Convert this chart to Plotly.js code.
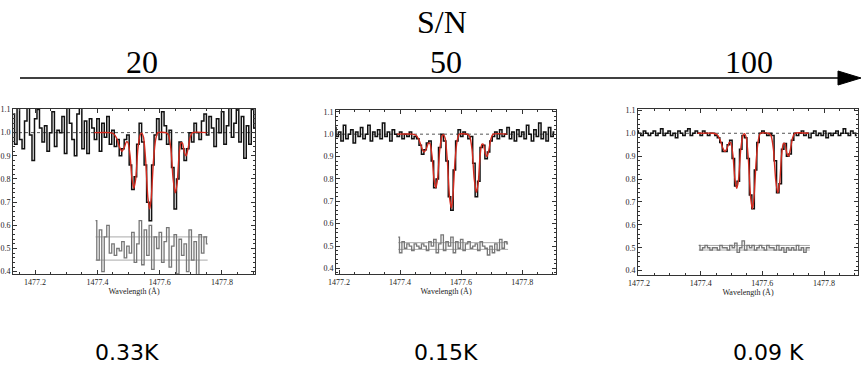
<!DOCTYPE html>
<html>
<head>
<meta charset="utf-8">
<script src="https://cdn.plot.ly/plotly-3.0.1.min.js"></script>
<style>html,body{margin:0;padding:0;background:#fff;}#chart{width:862px;height:368px;}</style>
</head>
<body>
<div id="chart"></div>
<script>
// ---- Data ----
const snLabels = ["20", "50", "100"];
const tempErrors = ["0.33K", "0.15K", "0.09 K"];
const axisTitle = "S/N";
const xTitle = "Wavelength (Å)";

const wave = [
1477.130,1477.138,1477.146,1477.154,1477.162,1477.170,1477.178,1477.186,1477.194,1477.202,
1477.210,1477.218,1477.226,1477.234,1477.242,1477.250,1477.258,1477.266,1477.274,1477.282,
1477.290,1477.298,1477.306,1477.314,1477.322,1477.330,1477.338,1477.346,1477.354,1477.362,
1477.370,1477.378,1477.386,1477.394,1477.402,1477.410,1477.418,1477.426,1477.434,1477.442,
1477.450,1477.458,1477.466,1477.474,1477.482,1477.490,1477.498,1477.506,1477.514,1477.522,
1477.530,1477.538,1477.546,1477.554,1477.562,1477.570,1477.578,1477.586,1477.594,1477.602,
1477.610,1477.618,1477.626,1477.634,1477.642,1477.650,1477.658,1477.666,1477.674,1477.682,
1477.690,1477.698,1477.706,1477.714,1477.722,1477.730,1477.738,1477.746,1477.754,1477.762,
1477.770,1477.778,1477.786,1477.794,1477.802,1477.810,1477.818,1477.826,1477.834,1477.842,
1477.850,1477.858,1477.866,1477.874,1477.882,1477.890,1477.898,1477.906];

const flux20 = [
1.08,0.95,1.12,0.97,0.93,1.05,1.14,0.99,0.88,1.06,
1.10,1.02,0.96,1.03,0.92,1.00,1.09,0.94,1.01,1.00,
1.07,0.91,1.13,1.04,0.97,0.90,1.08,1.12,0.93,1.05,
0.91,1.06,1.02,0.97,1.06,0.92,1.04,0.98,1.07,0.95,
1.01,0.94,0.97,0.90,0.93,0.97,0.99,0.86,0.755,0.81,
0.95,1.04,0.96,0.86,0.70,0.62,0.86,0.99,1.06,0.97,
1.09,1.03,0.95,1.01,0.85,0.67,0.80,0.96,0.93,0.88,
0.93,1.00,0.96,1.04,1.00,0.97,1.05,1.08,0.99,1.07,
1.02,0.94,1.06,1.00,1.09,0.95,1.03,1.11,0.98,1.04,
1.12,0.96,1.07,0.89,1.03,0.95,1.10,1.02];

const flux50 = [
1.01,0.98,1.03,0.97,1.02,1.00,0.96,1.03,0.99,1.01,
0.97,1.04,0.98,1.00,1.02,0.96,1.01,0.99,1.03,0.98,
1.00,1.04,0.97,1.01,0.99,1.02,0.98,1.05,0.99,1.01,
0.97,1.02,1.00,0.99,1.01,0.98,1.00,0.99,1.01,0.98,
0.99,0.98,0.95,0.91,0.93,0.96,0.97,0.88,0.76,0.80,
0.94,1.00,0.97,0.88,0.72,0.66,0.84,0.97,1.02,0.99,
1.01,1.00,0.98,0.99,0.87,0.72,0.79,0.94,0.95,0.89,
0.92,0.97,0.99,1.01,0.98,1.02,0.99,1.00,1.03,0.98,
1.01,0.97,1.02,0.99,1.01,0.98,1.04,1.00,0.97,1.02,
0.99,1.05,0.98,1.01,0.97,1.03,0.99,1.01];

const flux100 = [
1.00,0.99,1.01,1.00,0.99,1.01,1.00,0.98,1.01,1.00,
0.99,1.01,1.00,0.99,1.00,1.01,0.99,1.00,1.02,0.99,
1.00,1.01,0.99,1.00,0.98,1.01,1.00,0.99,1.01,1.02,
0.99,1.00,1.01,1.00,0.99,1.01,1.00,0.99,1.00,1.00,
0.99,0.98,0.96,0.92,0.92,0.95,0.97,0.89,0.77,0.79,
0.93,0.99,0.98,0.89,0.73,0.67,0.84,0.96,1.00,1.01,
1.00,0.99,1.00,0.99,0.88,0.74,0.78,0.93,0.955,0.90,
0.91,0.97,1.00,0.99,1.00,1.01,0.99,1.00,0.98,1.00,
1.01,0.99,1.00,0.99,1.01,0.98,1.00,0.99,1.00,1.01,
0.99,1.00,1.02,1.00,0.99,1.01,1.00,0.99];

// model fit (red), same absorption model in every panel
const modelWave = [1477.390,1477.440,1477.452,1477.462,1477.472,1477.479,1477.486,1477.493,1477.498,1477.505,
1477.511,1477.517,1477.523,1477.530,1477.537,1477.542,1477.548,1477.555,1477.562,1477.568,
1477.573,1477.580,1477.587,1477.594,1477.620,1477.628,1477.636,1477.643,1477.650,1477.656,
1477.662,1477.668,1477.673,1477.679,1477.685,1477.691,1477.698,1477.705,1477.750];
const modelFlux = [1.000,1.000,0.995,0.975,0.935,0.920,0.935,0.960,0.958,0.900,
0.800,0.760,0.800,0.930,0.990,0.998,0.980,0.880,0.720,0.670,
0.720,0.880,0.970,1.000,1.000,0.990,0.930,0.800,0.740,0.780,
0.900,0.955,0.955,0.915,0.900,0.930,0.980,1.000,1.000];

// residuals (grey, offset to 0.5), on wave[33..78]
const resid20 = [0.62,0.45,0.58,0.40,0.55,0.60,0.48,0.52,0.47,0.50,
0.49,0.53,0.46,0.51,0.48,0.57,0.44,0.52,0.62,0.43,
0.58,0.47,0.60,0.41,0.55,0.50,0.57,0.44,0.53,0.59,
0.42,0.51,0.56,0.39,0.54,0.47,0.52,0.40,0.58,0.45,
0.53,0.38,0.56,0.48,0.55,0.52];
const resid50 = [0.54,0.47,0.52,0.49,0.51,0.50,0.48,0.51,0.50,0.49,
0.51,0.50,0.48,0.52,0.50,0.53,0.47,0.51,0.55,0.48,
0.52,0.50,0.54,0.47,0.52,0.49,0.53,0.48,0.51,0.52,
0.49,0.50,0.51,0.48,0.52,0.50,0.49,0.46,0.50,0.47,
0.51,0.48,0.53,0.49,0.52,0.51];
const resid100 = [0.51,0.49,0.50,0.51,0.50,0.49,0.50,0.50,0.49,0.51,
0.50,0.50,0.49,0.51,0.50,0.52,0.48,0.50,0.53,0.49,
0.51,0.50,0.51,0.49,0.50,0.51,0.50,0.49,0.51,0.50,
0.50,0.49,0.51,0.49,0.50,0.48,0.50,0.49,0.50,0.49,
0.51,0.49,0.50,0.48,0.50,0.50];
const residStart = 33, residEnd = 79;
// 1-sigma band lines around the residuals
const band20 = [0.45, 0.55];
const band50 = [0.485, 0.515];
const band100 = [0.49, 0.51];
const continuumLevel = 1.0;

// ---- Build ----
const residWave = wave.slice(residStart, residEnd);
const fluxes = [flux20, flux50, flux100];
const resids = [resid20, resid50, resid100];
const bands = [band20, band50, band100];

// layout geometry (paper fractions) and axis ranges per panel
const xDomains = [[13/862, 255/862], [336/862, 556/862], [638/862, 858/862]];
const yDomains = [[(368-274)/368, (368-109)/368], [(368-274)/368, (368-110)/368], [(368-275)/368, (368-109)/368]];
const xRanges = [[1477.129, 1477.906], [1477.190, 1477.911], [1477.197, 1477.910]];
const yRanges = [[0.390, 1.102], [0.375, 1.108], [0.381, 1.106]];

const traces = [];
const layout = {
  width: 862, height: 368,
  margin: {l: 0, r: 0, t: 0, b: 0},
  paper_bgcolor: '#fff', plot_bgcolor: '#fff',
  showlegend: false,
  shapes: [], annotations: []
};
const serif = 'Liberation Serif, DejaVu Serif, serif';
const axBase = {
  showline: true, linecolor: '#333', linewidth: 1, mirror: 'allticks',
  ticks: 'inside', ticklen: 4, tickwidth: 1, tickcolor: '#333',
  showgrid: false, zeroline: false,
  tickfont: {family: serif, size: 8, color: '#222'}
};

for (let p = 0; p < 3; p++) {
  const sx = p === 0 ? '' : String(p + 1);
  const xa = 'x' + sx, ya = 'y' + sx;
  traces.push({x: wave, y: fluxes[p], xaxis: xa, yaxis: ya, type: 'scatter', mode: 'lines',
    line: {color: '#111', width: 1.5, shape: 'hvh'}, cliponaxis: true});
  traces.push({x: modelWave, y: modelFlux, xaxis: xa, yaxis: ya, type: 'scatter', mode: 'lines',
    line: {color: '#d42a1e', width: 1.4, shape: 'spline', smoothing: 0.6}});
  for (const b of bands[p]) {
    traces.push({x: [residWave[0], residWave[residWave.length - 1]], y: [b, b], xaxis: xa, yaxis: ya,
      type: 'scatter', mode: 'lines', line: {color: '#aaa', width: 1}});
  }
  traces.push({x: residWave, y: resids[p], xaxis: xa, yaxis: ya, type: 'scatter', mode: 'lines',
    line: {color: '#777', width: 1.3, shape: 'hvh'}});

  layout['xaxis' + sx] = Object.assign({}, axBase, {
    domain: xDomains[p], range: xRanges[p], anchor: ya,
    tick0: 1477.2, dtick: 0.2, tickformat: '.1f',
    minor: {dtick: 0.05, ticks: 'inside', ticklen: 2, tickcolor: '#333'},
    title: {text: xTitle, font: {family: serif, size: 8, color: '#222'}, standoff: 1}
  });
  layout['yaxis' + sx] = Object.assign({}, axBase, {
    domain: yDomains[p], range: yRanges[p], anchor: xa,
    tick0: 0.4, dtick: 0.1, tickformat: '.1f',
    minor: {dtick: 0.02, ticks: 'inside', ticklen: 2, tickcolor: '#333'}
  });
  layout.shapes.push({type: 'line', xref: xa + ' domain', yref: ya, x0: 0, x1: 1,
    y0: continuumLevel, y1: continuumLevel, layer: 'below', line: {color: '#555', width: 1, dash: 'dot'}});
}

// S/N arrow header
layout.shapes.push({type: 'line', xref: 'paper', yref: 'paper', x0: 20/862, x1: 842/862,
  y0: 1 - 78/368, y1: 1 - 78/368, line: {color: '#000', width: 1.5}});
layout.shapes.push({type: 'path', xref: 'paper', yref: 'paper',
  path: `M ${838/862},${1 - 71/368} L ${861/862},${1 - 78/368} L ${838/862},${1 - 85/368} Z`,
  fillcolor: '#000', line: {color: '#000', width: 1}});

layout.annotations.push({text: axisTitle, xref: 'paper', yref: 'paper', x: 442/862, y: 1 - 22/368,
  xanchor: 'center', yanchor: 'middle', showarrow: false, font: {family: serif, size: 32, color: '#000'}});
const snX = [142, 446, 749];
const errX = [127, 446, 768];
for (let p = 0; p < 3; p++) {
  layout.annotations.push({text: snLabels[p], xref: 'paper', yref: 'paper', x: snX[p]/862, y: 1 - 62/368,
    xanchor: 'center', yanchor: 'middle', showarrow: false, font: {family: serif, size: 32, color: '#000'}});
  layout.annotations.push({text: tempErrors[p], xref: 'paper', yref: 'paper', x: errX[p]/862, y: 1 - 352/368,
    xanchor: 'center', yanchor: 'middle', showarrow: false, font: {family: 'DejaVu Sans, sans-serif', size: 22, color: '#000'}});
}

Plotly.newPlot('chart', traces, layout, {staticPlot: true, displayModeBar: false});
</script>
</body>
</html>
